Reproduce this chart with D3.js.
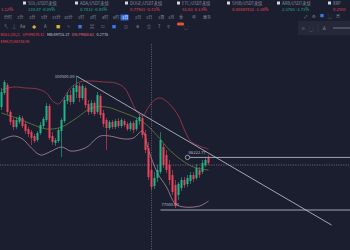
<!DOCTYPE html>
<html>
<head>
<meta charset="utf-8">
<script src="https://cdn.jsdelivr.net/npm/d3@7"></script>
<style>
html, body { margin: 0; padding: 0; background: #1b1e2e; overflow: hidden; }
svg { display: block; }
text { font-family: "Noto Sans CJK SC", "Noto Sans", sans-serif; }
</style>
</head>
<body>
<div class="container"></div>
<script>
// candles (daily), prices in USDT
var opens  = [95060,97520,98920,94190,92780,91550,92430,93130,92080,91200,90680,89980,89270,90500,91730,92780,95240,89980,88750,89100,
              90850,92610,96120,97170,95940,97690,98750,96640,98400,95590,94190,95760,94190,96990,94010,92780,91380,92430,91550,92610,
              91730,92610,92080,91200,92260,91200,92610,93130,90330,87870,84010,81210,82610,83660,88050,86640,84890,83140,81380,79630,
              80860,82260,81560,82080,83140,82610,84010,83660,84890,86120];
var closes = [97690,99450,94190,92430,91550,92780,93310,91730,90850,90330,89630,89100,90500,91910,92960,95240,89630,88920,89270,91030,
              92780,96290,97170,95940,98400,98920,96640,98750,95410,94190,95760,93840,97170,93660,92080,91380,92430,91550,92610,91730,
              92780,91910,91200,92260,91030,92780,93310,90150,87520,82780,81030,82610,84010,89270,84890,84010,82260,80150,77870,81560,
              82260,81380,82610,83140,82430,84360,83140,85240,85770,85240];
var highs  = [98400,99800,99270,94540,93130,93310,93660,93480,92430,91550,91030,90330,90850,92430,93310,95760,95590,90680,89630,91380,
              93130,96820,97690,98040,98920,100500,99270,99100,98750,96290,96290,96120,97690,97340,94540,93130,92780,92780,92960,93130,
              93130,92960,92430,92610,92610,93130,93840,93480,91030,88920,85770,83660,84890,90680,88570,87520,85770,84010,82260,81910,
              82780,82780,83140,83660,83660,85070,84540,85770,86120,86640];
var lows   = [94540,97170,93840,91910,91030,91200,92080,91380,90330,89800,88400,88750,88920,90150,91380,92430,89270,88400,88220,88750,
              86290,92260,95590,95410,95590,96640,95940,96290,94890,93660,93840,93480,93840,93130,91550,87520,91030,91200,91200,91380,
              91380,91550,90850,90850,90500,90850,91910,89630,86990,82260,80500,80680,81910,83310,84360,83490,81380,79630,77350,78750,
              80330,80860,81030,81560,81910,82260,82610,83310,84540,84890];

// BOLL(20,2): [candle index, price]
var bollUpper = [[0,98040],[4,98570],[8,98400],[12,98220],[15,97520],[17,96120],[19,95590],[21,96820],[23,98400],[26,99450],
                 [30,99620],[34,99450],[38,99270],[41,98400],[43,96470],[45,94360],[47,93480],[49,95060],[51,96290],[53,96640],
                 [56,95590],[59,93480],[61,91030],[63,89100],[66,88220],[69,87700]];
var bollMid   = [[0,94010],[5,93130],[10,92080],[15,91200],[20,91550],[25,93130],[30,94890],[35,95060],[40,94190],[45,93130],
                 [48,92080],[52,89980],[56,87520],[60,85770],[64,84540],[69,84010]];
var bollLower = [[0,89270],[4,89980],[7,89450],[10,87870],[13,86640],[16,87170],[20,88050],[23,87350],[26,87520],[29,88220],
                 [31,89270],[33,89980],[36,89980],[41,89450],[44,89630],[47,90850],[49,87520],[52,83490],[55,81030],[58,78050],
                 [61,77520],[66,77700],[69,78580]];

// drawings
var trendLine = [[25,100500],[110,74370]];
var resistance = {i: 62, price: 86222.77, label: "86222.77"};
var support = {i: 53, price: 77000, label: "77000.00"};
var highLabel = {i: 25, price: 100500, label: "100500.00"};
var lastPrice = 84890;
var crossIndex = 50;

// top bar
var tickerNames = ["", "SOL/USDT永续", "ADA/USDT永续", "DOGE/USDT永续", "ETC/USDT永续", "SHIB/USDT永续", "ARB/USDT永续", "XRP"];
var tickerValues = ["1.12%", "130.87  -0.05%", "0.7412  -0.85%", "0.77921  -0.72%", "53.83  -0.13%", "0.00047431  -1.34%", "2.3765  -2.71%", "0.2501"];
var tickerUp = [false, true, true, false, false, false, true, false];
var tickerX = [1, 28, 80, 130, 182, 232, 282, 333];
var periods = ["分时","1分","3分","5分","15分","30分","1时","2时","4时","6时","1日","2日","3日","1周","1月","季","年","更多"];
var periodX = [4,17,29,41,52,64,78,90,102,113,122,135,146,158,168,179,192,203];
var activePeriod = 10;
var indicatorText = [["BOLL(20,2)", "#e8445a"], ["UP:99570.12", "#e8445a"], ["MB:89715.37", "#c8ccd8"], ["DN:79860.62", "#e86a8a"], ["0.2775", "#c8ccd8"]];
var emaText = "EMA(7):86744.91";

var green = "#22b48a", red = "#e8445a";

var svg = d3.select(".container").append("svg")
  .attr("width", 350).attr("height", 250)
  .style("background-color", "#1b1e2e");

var x = d3.scaleLinear().domain([0, 69]).range([1.5, 208.5]);
var y = d3.scaleLinear().domain([77000, 100500]).range([210, 76]);

var chart = svg.append("g");

// crosshair + last price line
chart.append("line")
  .attr("x1", x(crossIndex)).attr("x2", x(crossIndex)).attr("y1", 44).attr("y2", 250)
  .attr("stroke", "#7c8196").attr("stroke-width", 0.6).attr("stroke-dasharray", "1.2,1.2");
chart.append("line")
  .attr("x1", 0).attr("x2", 350).attr("y1", y(lastPrice)).attr("y2", y(lastPrice))
  .attr("stroke", "#8c91a6").attr("stroke-width", 0.6).attr("stroke-dasharray", "1.2,1.2");

// bollinger bands
var band = d3.line().x(function(d) { return x(d[0]); }).y(function(d) { return y(d[1]); }).curve(d3.curveCatmullRom);
chart.append("path").attr("d", band(bollUpper)).attr("fill", "none").attr("stroke", "#a83a55").attr("stroke-width", 0.8);
chart.append("path").attr("d", band(bollMid)).attr("fill", "none").attr("stroke", "#6a7f3a").attr("stroke-width", 0.8);
chart.append("path").attr("d", band(bollLower)).attr("fill", "none").attr("stroke", "#b08a9c").attr("stroke-width", 0.8);

// candles
var idx = d3.range(opens.length);
chart.selectAll("line.wick").data(idx).enter().append("line")
  .attr("class", "wick")
  .attr("x1", function(i) { return x(i); }).attr("x2", function(i) { return x(i); })
  .attr("y1", function(i) { return y(highs[i]); }).attr("y2", function(i) { return y(lows[i]); })
  .attr("stroke", function(i) { return closes[i] >= opens[i] ? green : red; })
  .attr("stroke-width", 0.6);
chart.selectAll("rect.body").data(idx).enter().append("rect")
  .attr("class", "body")
  .attr("x", function(i) { return x(i) - 1; })
  .attr("width", 2)
  .attr("y", function(i) { return y(Math.max(opens[i], closes[i])); })
  .attr("height", function(i) { return Math.max(0.7, Math.abs(y(opens[i]) - y(closes[i]))); })
  .attr("fill", function(i) { return closes[i] >= opens[i] ? green : red; });

// drawings
var lineColor = "#c4c8d4";
chart.append("line")
  .attr("x1", x(trendLine[0][0])).attr("y1", y(trendLine[0][1]))
  .attr("x2", x(trendLine[1][0])).attr("y2", y(trendLine[1][1]))
  .attr("stroke", lineColor).attr("stroke-width", 0.8);
chart.append("text")
  .attr("x", x(highLabel.i) - 2).attr("y", y(highLabel.price) + 1.5)
  .attr("text-anchor", "end").attr("font-size", 4.2).attr("fill", "#b8bcc8")
  .text(highLabel.label);

chart.append("line")
  .attr("x1", x(resistance.i)).attr("x2", 350)
  .attr("y1", y(resistance.price)).attr("y2", y(resistance.price))
  .attr("stroke", lineColor).attr("stroke-width", 0.8);
chart.append("circle")
  .attr("cx", x(resistance.i)).attr("cy", y(resistance.price)).attr("r", 2.2)
  .attr("fill", "#1b1e2e").attr("stroke", lineColor).attr("stroke-width", 0.7);
chart.append("text")
  .attr("x", x(resistance.i) + 1).attr("y", y(resistance.price) - 3.5)
  .attr("font-size", 4.2).attr("fill", "#b8bcc8").text(resistance.label);

chart.append("line")
  .attr("x1", x(support.i)).attr("x2", 350)
  .attr("y1", y(support.price)).attr("y2", y(support.price))
  .attr("stroke", lineColor).attr("stroke-width", 0.8);
chart.append("text")
  .attr("x", x(support.i) + 1).attr("y", y(support.price) - 4.5)
  .attr("font-size", 4.2).attr("fill", "#b8bcc8").text(support.label);

// top bar
var bar = svg.append("g");
bar.selectAll("rect.coin").data(tickerNames.filter(function(n) { return n; })).enter().append("rect")
  .attr("x", function(d, i) { return tickerX[i + 1] - 5; }).attr("y", 1.5)
  .attr("width", 3).attr("height", 3).attr("fill", "#d5d8e0");
bar.selectAll("text.name").data(tickerNames).enter().append("text")
  .attr("x", function(d, i) { return tickerX[i]; }).attr("y", 4.8)
  .attr("font-size", 4.2).attr("fill", "#8a8fa3").text(function(d) { return d; });
bar.selectAll("text.val").data(tickerValues).enter().append("text")
  .attr("x", function(d, i) { return tickerX[i]; }).attr("y", 11)
  .attr("font-size", 4.2)
  .attr("fill", function(d, i) { return tickerUp[i] ? green : red; })
  .text(function(d) { return d; });

bar.append("rect").attr("x", periodX[activePeriod] - 1.5).attr("y", 14.5)
  .attr("width", 8).attr("height", 6).attr("rx", 0.8).attr("fill", "#2f6bd8");
bar.selectAll("text.period").data(periods).enter().append("text")
  .attr("x", function(d, i) { return periodX[i]; }).attr("y", 19)
  .attr("font-size", 4).attr("fill", function(d, i) { return i === activePeriod ? "#ffffff" : "#8a8fa3"; })
  .text(function(d) { return d; });

// tool icons
var tools = ["↖","⊥","Aa","◆","A","■","✎","■","⌘","☐","■","◫","✲","☆","T","⚲"];
var toolX = [4,12,20,32,44,56,67,78,90,101,112,124,136,147,158,167];
var toolColor = ["#8a8fa3","#8a8fa3","#8a8fa3","#d8b23a","#8a8fa3","#d8b23a","#8a8fa3","#3b78e0","#8a8fa3","#8a8fa3","#3b78e0","#8a8fa3","#8a8fa3","#8a8fa3","#8a8fa3","#8a8fa3"];
bar.selectAll("text.tool").data(tools).enter().append("text")
  .attr("x", function(d, i) { return toolX[i]; }).attr("y", 28)
  .attr("font-size", 4.2).attr("fill", function(d, i) { return toolColor[i]; })
  .text(function(d) { return d; });
bar.append("rect").attr("x", 177).attr("y", 22.5).attr("width", 7).attr("height", 3).attr("rx", 1.2).attr("fill", "#e0503a");
bar.append("text").attr("x", 184).attr("y", 29).attr("font-size", 4).attr("fill", "#8a8fa3").text("▢");

// right side controls
var rightIcons = ["⤢","⚙","■","▢","▣"];
var rightX = [304,312,320,328,336];
bar.selectAll("text.ri").data(rightIcons).enter().append("text")
  .attr("x", function(d, i) { return rightX[i]; }).attr("y", 18)
  .attr("font-size", 4).attr("fill", function(d, i) { return i === 2 ? "#3b78e0" : "#8a8fa3"; })
  .text(function(d) { return d; });
bar.append("rect").attr("x", 298).attr("y", 21).attr("width", 54).attr("height", 14).attr("fill", "#242839");
bar.append("text").attr("x", 301).attr("y", 30).attr("font-size", 4.5).attr("fill", "#7d8296").text("≡");
bar.append("text").attr("x", 309).attr("y", 30).attr("font-size", 4.5).attr("fill", "#7d8296").text("▢");
bar.append("line").attr("x1", 318).attr("x2", 318).attr("y1", 24).attr("y2", 32).attr("stroke", "#3a3f52").attr("stroke-width", 0.5);
bar.append("text").attr("x", 322).attr("y", 30).attr("font-size", 4.5).attr("fill", "#a0a5b8").text("♙");
bar.append("line").attr("x1", 333).attr("x2", 350).attr("y1", 28).attr("y2", 28).attr("stroke", "#a0a5b8").attr("stroke-width", 0.6);

// indicator readouts
var ix = 0.5;
indicatorText.forEach(function(t) {
  var node = bar.append("text").attr("x", ix).attr("y", 36).attr("font-size", 3.8).attr("fill", t[1]).text(t[0]);
  ix += node.node().getComputedTextLength() + 2.5;
});
bar.append("text").attr("x", 0.5).attr("y", 43).attr("font-size", 3.8).attr("fill", red).text(emaText);
</script>
</body>
</html>
